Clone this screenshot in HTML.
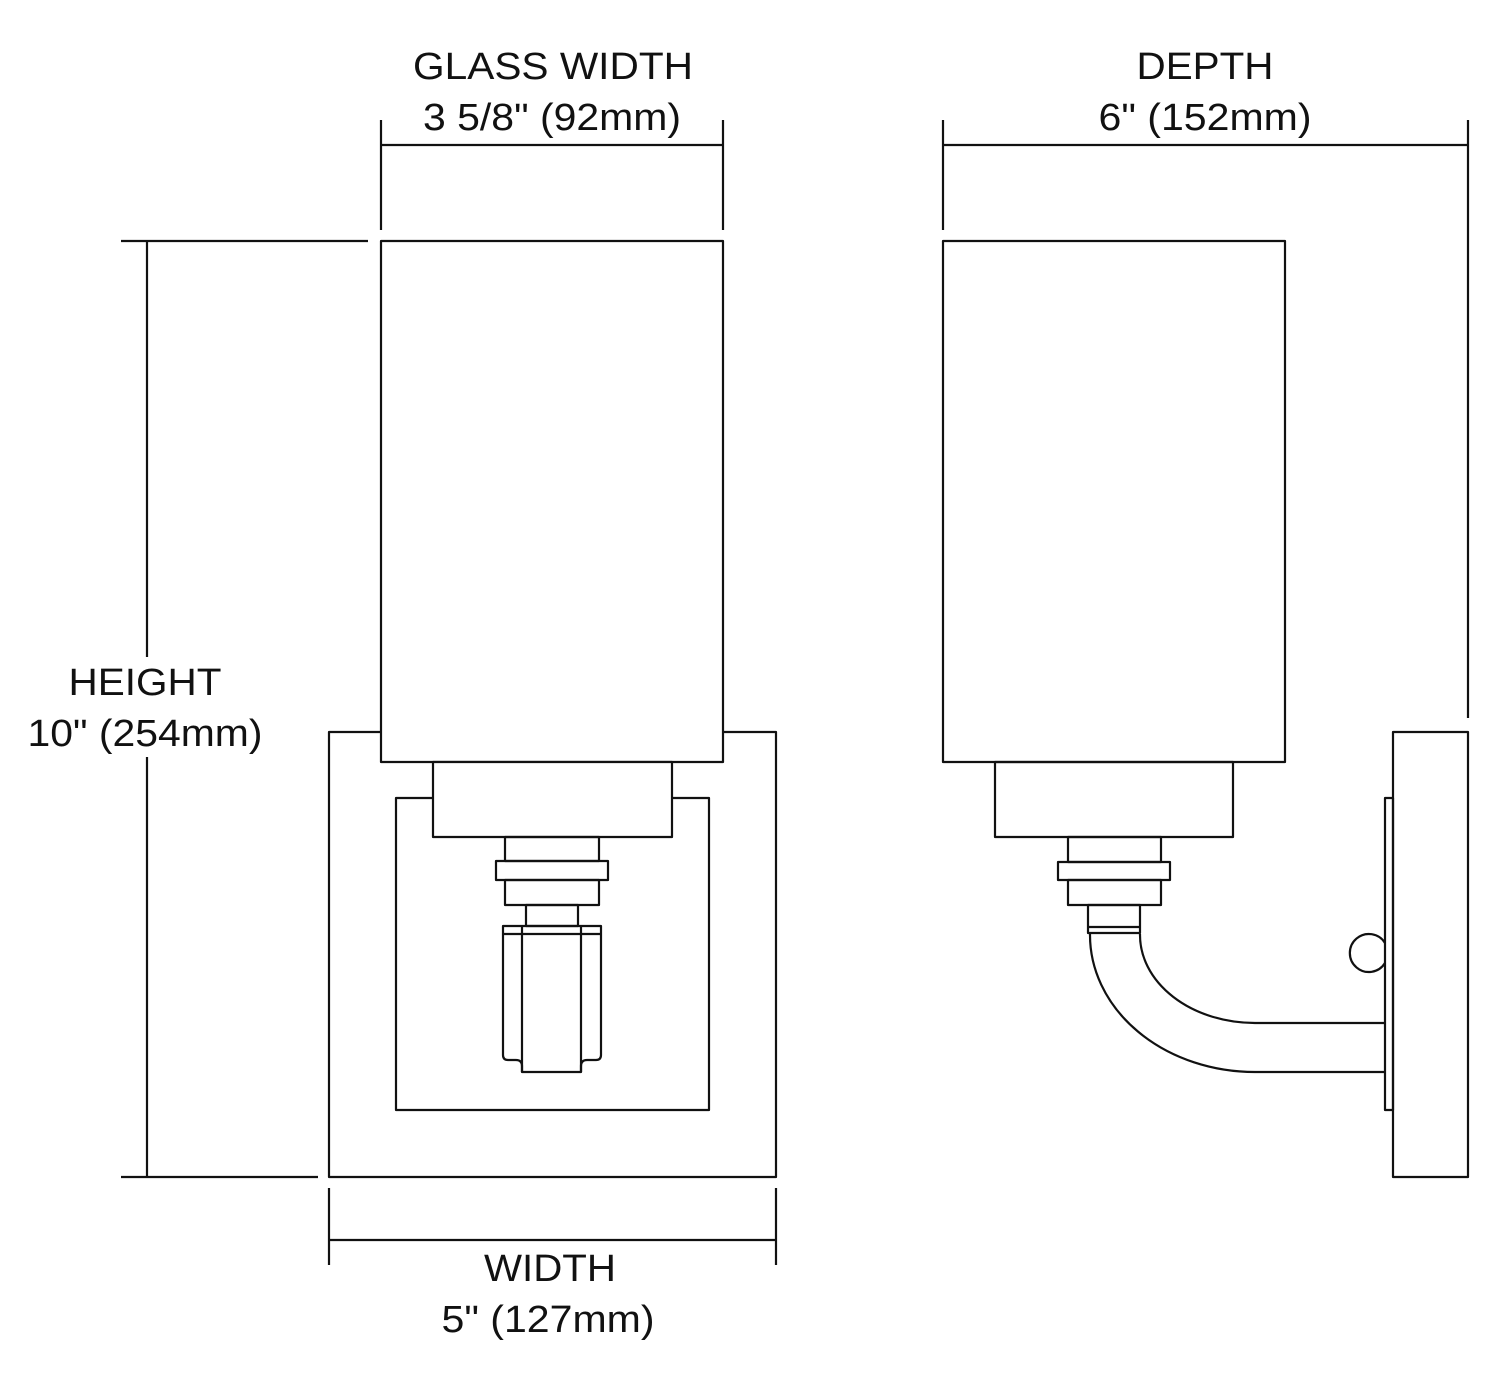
<!DOCTYPE html>
<html><head><meta charset="utf-8"><style>html,body{margin:0;padding:0;background:#fff}svg{display:block}</style></head>
<body>
<svg width="1500" height="1390" viewBox="0 0 1500 1390" xmlns="http://www.w3.org/2000/svg">
<rect width="1500" height="1390" fill="#fff"/>
<g fill="none" stroke="#111" stroke-width="2.2" stroke-linejoin="round">
<!-- LEFT VIEW -->
<rect x="329" y="732" width="447" height="445"/>
<rect x="396" y="798" width="313" height="312" fill="#fff"/>
<rect x="381" y="241" width="342" height="521" fill="#fff"/>
<rect x="433" y="762" width="239" height="75" fill="#fff"/>
<rect x="505" y="837" width="94" height="24"/>
<rect x="496" y="861" width="112" height="19"/>
<rect x="505" y="880" width="94" height="25"/>
<rect x="526" y="905" width="52" height="21"/>
<path d="M503 926 H601 V1055 Q601 1060 596 1060 H587 Q581 1060 581 1066 V1072 H522 V1066 Q522 1060 516 1060 H508 Q503 1060 503 1055 Z"/>
<line x1="503" y1="934" x2="601" y2="934"/>
<line x1="522" y1="926" x2="522" y2="1072"/>
<line x1="581" y1="926" x2="581" y2="1072"/>
<!-- RIGHT VIEW -->
<rect x="943" y="241" width="342" height="521"/>
<rect x="995" y="762" width="238" height="75"/>
<rect x="1068" y="837" width="93" height="25"/>
<rect x="1058" y="862" width="112" height="18"/>
<rect x="1068" y="880" width="93" height="25"/>
<rect x="1088" y="905" width="52" height="28"/>
<line x1="1088" y1="927" x2="1140" y2="927"/>
<path d="M1090 934 A165 137 0 0 0 1255 1072 H1385"/>
<path d="M1140 934 A115 88 0 0 0 1255 1023 H1385"/>
<rect x="1393" y="732" width="75" height="445"/>
<rect x="1385" y="798" width="8" height="312"/>
<path d="M1385 943 A19 19 0 1 0 1385 963"/>
<!-- DIMENSIONS -->
<line x1="381" y1="120" x2="381" y2="230"/>
<line x1="723" y1="120" x2="723" y2="230"/>
<line x1="381" y1="145" x2="723" y2="145"/>
<line x1="943" y1="120" x2="943" y2="230"/>
<line x1="1468" y1="120" x2="1468" y2="718"/>
<line x1="943" y1="145" x2="1468" y2="145"/>
<line x1="121" y1="241" x2="368" y2="241"/>
<line x1="121" y1="1177" x2="318" y2="1177"/>
<line x1="147" y1="241" x2="147" y2="657"/>
<line x1="147" y1="757" x2="147" y2="1177"/>
<line x1="329" y1="1188" x2="329" y2="1265"/>
<line x1="776" y1="1188" x2="776" y2="1265"/>
<line x1="329" y1="1240" x2="776" y2="1240"/>
</g>
<g font-family="Liberation Sans, Arial, sans-serif" font-size="38" fill="#111" text-anchor="middle">
<text x="553" y="79" textLength="280" lengthAdjust="spacingAndGlyphs">GLASS WIDTH</text>
<text x="552" y="130" textLength="258" lengthAdjust="spacingAndGlyphs">3 5/8" (92mm)</text>
<text x="1205" y="79" textLength="137" lengthAdjust="spacingAndGlyphs">DEPTH</text>
<text x="1205" y="130" textLength="213" lengthAdjust="spacingAndGlyphs">6" (152mm)</text>
<text x="145" y="695" textLength="153" lengthAdjust="spacingAndGlyphs">HEIGHT</text>
<text x="145" y="746" textLength="235" lengthAdjust="spacingAndGlyphs">10" (254mm)</text>
<text x="550" y="1281" textLength="132" lengthAdjust="spacingAndGlyphs">WIDTH</text>
<text x="548" y="1332" textLength="213" lengthAdjust="spacingAndGlyphs">5" (127mm)</text>
</g>
</svg>
</body></html>
